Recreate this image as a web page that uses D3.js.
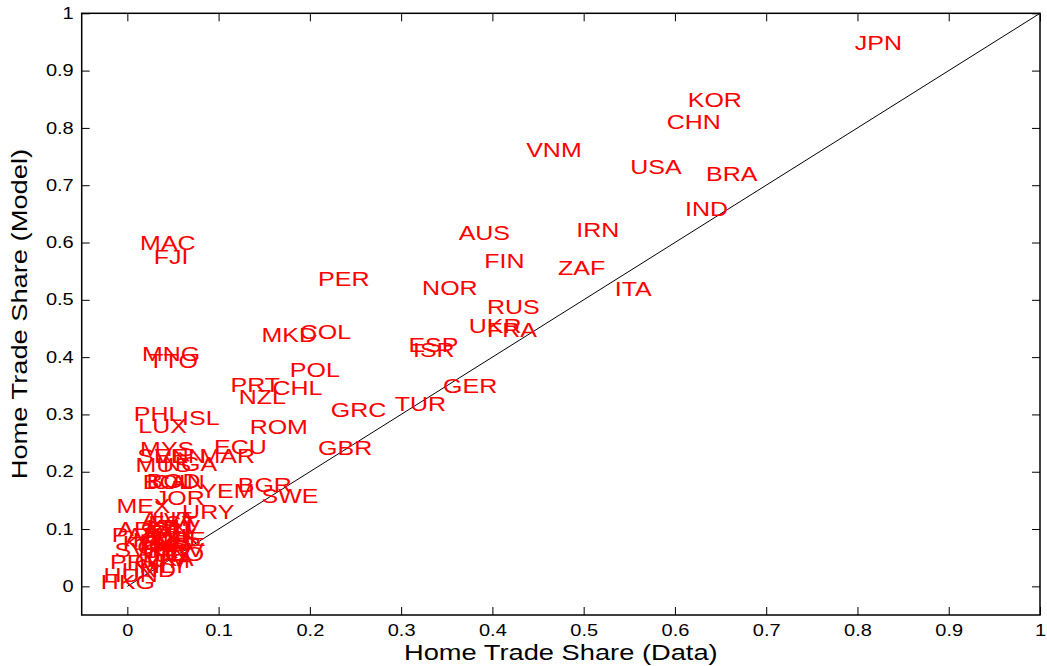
<!DOCTYPE html>
<html>
<head>
<meta charset="utf-8">
<script src="https://cdn.jsdelivr.net/npm/d3@7"></script>
<style>
  html, body { margin: 0; padding: 0; background: #fff; }
  svg text { font-family: "Liberation Sans", Arial, Helvetica, sans-serif; }
</style>
</head>
<body>
<svg id="chart" width="1047" height="666"></svg>
<script>
const countries = ["JPN","KOR","CHN","VNM","USA","BRA","IND","IRN","AUS","FIN","ZAF","ITA","NOR","PER","RUS","UKR","FRA","ESP","ISR","GER","TUR","GRC","GBR","MAC","FJI","MKD","COL","MNG","TTO","POL","PRT","CHL","NZL","PHL","ISL","LUX","ROM","ECU","MAR","MYS","SEN","VEN","MUS","NGA","BOL","CAN","BGD","BGR","YEM","SWE","JOR","MEX","URY","ARG","PAN","KEN","SVK","PRY","HND","HUN","HKG","TGO","AUT","EST","LVA","LTU","SLV","SVN","BEL","DNK","CHE","KAZ","CZE","SGP","CYP","HRV","CRI","TUN","LKA","GTM","MLT"];
const homeData = [0.797,0.614,0.591,0.437,0.551,0.634,0.611,0.492,0.363,0.391,0.472,0.534,0.323,0.209,0.394,0.374,0.394,0.308,0.313,0.346,0.293,0.223,0.209,0.014,0.029,0.147,0.189,0.016,0.023,0.178,0.113,0.159,0.122,0.007,0.060,0.012,0.134,0.095,0.079,0.014,0.011,0.030,0.009,0.039,0.017,0.027,0.021,0.121,0.080,0.147,0.030,-0.012,0.060,-0.011,-0.017,-0.005,-0.014,-0.019,-0.006,-0.026,-0.029,0.025,0.016,0.023,0.027,0.021,0.030,0.014,0.025,0.019,0.028,0.006,0.015,0.023,0.011,0.027,0.017,0.012,0.021,0.008,0.013];
const homeModel = [0.949,0.850,0.812,0.763,0.732,0.720,0.660,0.622,0.618,0.568,0.556,0.520,0.521,0.537,0.488,0.456,0.449,0.422,0.414,0.350,0.320,0.308,0.243,0.600,0.576,0.439,0.445,0.407,0.395,0.378,0.353,0.347,0.331,0.301,0.295,0.280,0.279,0.244,0.229,0.241,0.229,0.228,0.212,0.215,0.183,0.183,0.185,0.177,0.167,0.159,0.156,0.142,0.131,0.101,0.091,0.076,0.065,0.044,0.030,0.020,0.008,0.058,0.119,0.112,0.116,0.105,0.104,0.098,0.095,0.088,0.084,0.081,0.079,0.074,0.069,0.065,0.062,0.056,0.049,0.046,0.037];
const tickValues = [0,0.1,0.2,0.3,0.4,0.5,0.6,0.7,0.8,0.9,1];
const tickLabels = ["0","0.1","0.2","0.3","0.4","0.5","0.6","0.7","0.8","0.9","1"];
const xTitle = "Home Trade Share (Data)";
const yTitle = "Home Trade Share (Model)";

const svg = d3.select("#chart");
const L = 81.7, R = 1040, T = 13.3, B = 615;
const x = d3.scaleLinear().domain([-0.05, 1]).range([L, R]);
const y = d3.scaleLinear().domain([-0.05, 1]).range([B, T]);
const SX = 1.25;

// diagonal 45-degree line
svg.append("line")
  .attr("x1", x(0)).attr("y1", y(0)).attr("x2", x(1)).attr("y2", y(1))
  .attr("stroke", "#000").attr("stroke-width", 1);

// labels
const fs = 21;
svg.append("g").selectAll("text").data(countries).join("text")
  .attr("transform", (d, i) => `translate(${x(homeData[i])},${y(homeModel[i]) + 0.36 * fs}) scale(1.19,1)`)
  .attr("fill", "#ff0000")
  .attr("font-size", fs)
  .text(d => d);

function fmt(v) { return tickLabels[tickValues.indexOf(v)]; }

// axes
const gB = svg.append("g").attr("transform", `translate(0,${B})`)
  .call(d3.axisBottom(x).tickValues(tickValues).tickFormat(fmt).tickSizeInner(-8).tickSizeOuter(0).tickPadding(10));
const gL = svg.append("g").attr("transform", `translate(${L},0)`)
  .call(d3.axisLeft(y).tickValues(tickValues).tickFormat(fmt).tickSizeInner(-8).tickSizeOuter(0).tickPadding(8));
const gT = svg.append("g").attr("transform", `translate(0,${T})`)
  .call(d3.axisTop(x).tickValues(tickValues).tickFormat("").tickSizeInner(-8).tickSizeOuter(0));
const gR = svg.append("g").attr("transform", `translate(${R},0)`)
  .call(d3.axisRight(y).tickValues(tickValues).tickFormat("").tickSizeInner(-8).tickSizeOuter(0));

[gB, gL, gT, gR].forEach(g => {
  g.select(".domain").remove();
  g.selectAll(".tick line").attr("stroke", "#000").attr("stroke-width", 1);
  g.selectAll(".tick text").attr("font-size", 16).attr("fill", "#000")
    .attr("font-family", "Liberation Sans, Arial, sans-serif");
});
gB.selectAll(".tick text").attr("transform", `scale(${SX},1)`);
gL.selectAll(".tick text").each(function() {
  const t = d3.select(this);
  const xv = +t.attr("x");
  t.attr("x", xv / SX).attr("transform", `scale(${SX},1)`);
});

// box
svg.append("rect")
  .attr("x", L).attr("y", T).attr("width", R - L).attr("height", B - T)
  .attr("fill", "none").attr("stroke", "#000").attr("stroke-width", 1.5);

// titles
svg.append("text")
  .attr("transform", `translate(${(L + R) / 2},660) scale(1.24,1)`)
  .attr("text-anchor", "middle").attr("font-size", 22).attr("fill", "#000")
  .text(xTitle);
svg.append("text")
  .attr("transform", `translate(27,${(T + B) / 2}) rotate(-90) scale(1.24,1)`)
  .attr("text-anchor", "middle").attr("font-size", 22).attr("fill", "#000")
  .text(yTitle);
</script>
</body>
</html>
